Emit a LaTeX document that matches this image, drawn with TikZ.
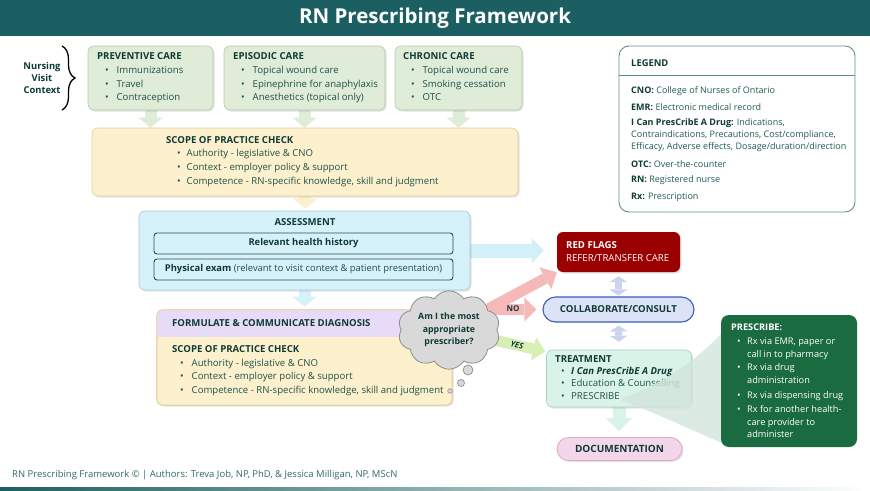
\documentclass[tikz,border=0pt]{standalone}
\usepackage{fontspec}
\setmainfont{Open Sans}
\usetikzlibrary{shapes.symbols,shadows,decorations.pathreplacing,arrows.meta,calc}
\pgfdeclarelayer{bg}
\pgfdeclarelayer{paper}
\pgfsetlayers{paper,bg,main}
\definecolor{titlebar}{HTML}{1C5F63}
\definecolor{hdr}{HTML}{0F3A36}
\definecolor{bod}{HTML}{1F514B}
\definecolor{grnf}{HTML}{DFECD7}
\definecolor{grnb}{HTML}{B3CCAA}
\definecolor{yelf}{HTML}{FDF0CD}
\definecolor{yelb}{HTML}{E3D09C}
\definecolor{bluf}{HTML}{D6F1F9}
\definecolor{blub}{HTML}{A4CCD8}
\definecolor{inb}{HTML}{24504F}
\definecolor{purf}{HTML}{E7DBF8}
\definecolor{redf}{HTML}{9A0000}
\definecolor{colf}{HTML}{DCE3F6}
\definecolor{colb}{HTML}{3B5DB6}
\definecolor{trtf}{HTML}{DAF3E8}
\definecolor{trtb}{HTML}{A7D3BF}
\definecolor{docf}{HTML}{F4D6EB}
\definecolor{docb}{HTML}{D8A8CB}
\definecolor{presf}{HTML}{1A6B3F}
\definecolor{wedgec}{HTML}{D3E5DD}
\definecolor{pinka}{HTML}{F6B9B9}
\definecolor{yesa}{HTML}{D7EEB5}
\definecolor{blua}{HTML}{D3EFF7}
\definecolor{lava}{HTML}{CCD3EF}
\definecolor{cldf}{HTML}{D9D9D9}
\definecolor{cldb}{HTML}{8E8E8E}
\definecolor{legb}{HTML}{5F8F8B}
\definecolor{legt}{HTML}{1F5B56}
\definecolor{foot}{HTML}{2D6C68}
\newcommand\hd[1]{{\color{hdr}\bfseries #1}}
\newcommand\bitem{\hspace*{8pt}\makebox[11.5pt][l]{\textbullet}}
\newcommand\bitemb{\hspace*{11pt}\makebox[9.5pt][l]{\textbullet}}
\newcommand\bitemc{\hspace*{6pt}\makebox[10pt][l]{\textbullet}}
\newcommand\bcontc{\hspace*{16pt}}
\begin{document}
\begin{tikzpicture}[x=1pt,y=-1pt,
 box/.style={rounded corners=6pt, line width=0.6pt, inner sep=0pt,
   drop shadow={opacity=0.22,shadow xshift=1.5pt,shadow yshift=-1.5pt}},
 txt/.style={anchor=north west, inner sep=0pt, align=left, text=bod,
   font=\fontsize{9.6}{13.3}\selectfont},
 lbl/.style={inner sep=0pt, text=hdr, font=\bfseries\fontsize{9.6}{12}\selectfont},
 legtxt/.style={anchor=west, inner sep=0pt, align=left, text=legt,
   font=\fontsize{9}{12.3}\selectfont},
 barrow/.style n args={4}{draw=#1, line width=#2,
   -{Triangle[width=#3,length=#4,line width=0pt]}},
 darrow/.style n args={4}{draw=#1, line width=#2,
   {Triangle[width=#3,length=#4,line width=0pt]}-{Triangle[width=#3,length=#4,line width=0pt]}}
]
\useasboundingbox (0,0) rectangle (870,490);
\begin{pgfonlayer}{paper}
\fill[white] (0,0) rectangle (870,490);
\end{pgfonlayer}
% title bar
\fill[titlebar] (0,0) rectangle (870,36);
\node[inner sep=0pt, text=white, font=\bfseries\fontsize{20.5}{24}\selectfont] (title) at (435,18) {RN Prescribing Framework};
\shade[left color=titlebar, right color=white] (0,487) rectangle (870,490);

% nursing visit context
\node[lbl, align=center, font=\bfseries\fontsize{9.4}{11.8}\selectfont] (nvc) at (42,78) {Nursing\\Visit\\Context};
\coordinate (brt) at (62,46);
\coordinate (brb) at (62,110);
\draw[line width=1.3pt, decorate, decoration={brace, amplitude=13pt}] (brt) -- (brb);

% context boxes
\node[box, draw=grnb, fill=grnf, minimum width=125, minimum height=64] (prev) at (150.5,78) {};
\node[box, draw=grnb, fill=grnf, minimum width=161, minimum height=64] (epi) at (304.5,78) {};
\node[box, draw=grnb, fill=grnf, minimum width=127, minimum height=64] (chron) at (458.5,78) {};
\node[txt] (prevt) at (97,52) {\hd{PREVENTIVE CARE}\\[1.5pt] \bitem Immunizations\\ \bitem Travel\\ \bitem Contraception};
\node[txt] (epit) at (233,52) {\hd{EPISODIC CARE}\\[1.5pt] \bitem Topical wound care\\ \bitem Epinephrine for anaphylaxis\\ \bitem Anesthetics (topical only)};
\node[txt] (chront) at (403,52) {\hd{CHRONIC CARE}\\[1.5pt] \bitem Topical wound care\\ \bitem Smoking cessation\\ \bitem OTC};

% scope of practice 1
\node[box, draw=yelb, fill=yelf, minimum width=426, minimum height=68] (scope) at (305,162) {};
\node[txt, font=\fontsize{9.6}{13.8}\selectfont] (scopet) at (166,136) {\hd{SCOPE OF PRACTICE CHECK}\\ \bitemb Authority - legislative \& CNO\\ \bitemb Context - employer policy \& support\\ \bitemb Competence - RN-specific knowledge, skill and judgment};

% assessment
\node[box, draw=blub, fill=bluf, minimum width=331, minimum height=79] (assess) at (304.5,250.5) {};
\node[lbl] (asst) at (305,222) {ASSESSMENT};
\node[draw=inb, line width=0.9pt, rounded corners=3pt, fill=bluf, minimum width=299, minimum height=21, inner sep=0pt, text=hdr, font=\bfseries\fontsize{9.4}{12}\selectfont] (hist) at (303.5,243.5) {Relevant health history};
\node[draw=inb, line width=0.9pt, rounded corners=3pt, fill=bluf, minimum width=299, minimum height=21, inner sep=0pt, text=bod, font=\fontsize{9.4}{12}\selectfont] (phys) at (303.5,269.5) {\textcolor{hdr}{\bfseries Physical exam} (relevant to visit context \& patient presentation)};

% formulate
\node[box, draw=yelb, fill=yelf, minimum width=295, minimum height=95] (form) at (304.5,357.5) {};
\begin{scope}
\clip[rounded corners=6pt] (form.north west) rectangle (form.south east);
\fill[purf] (form.north west) rectangle ($(form.north east)+(0,27)$);
\end{scope}
\draw[yelb, line width=0.6pt, rounded corners=6pt] (form.north west) rectangle (form.south east);
\node[lbl, anchor=west] (formt) at (172,323.5) {FORMULATE \& COMMUNICATE DIAGNOSIS};
\node[txt, font=\fontsize{9.6}{13.5}\selectfont] (scope2t) at (172,345.5) {\hd{SCOPE OF PRACTICE CHECK}\\ \bitem Authority - legislative \& CNO\\ \bitem Context - employer policy \& support\\ \bitem Competence - RN-specific knowledge, skill and judgment};

% right column
\node[rounded corners=6pt, fill=redf, minimum width=123, minimum height=40, inner sep=0pt, drop shadow={opacity=0.22,shadow xshift=1.5pt,shadow yshift=-1.5pt}] (red) at (618.5,252) {};
\node[txt, text=white, font=\fontsize{9.6}{13}\selectfont] (redt) at (566,241) {\textbf{RED FLAGS}\\REFER/TRANSFER CARE};
\node[rounded corners=12.5pt, draw=colb, line width=1.1pt, fill=colf, minimum width=151, minimum height=25, inner sep=0pt, text=hdr, font=\bfseries\fontsize{9.6}{12}\selectfont] (collab) at (618.5,309.5) {COLLABORATE/CONSULT};
\node[box, draw=trtb, fill=trtf, minimum width=145, minimum height=57] (treat) at (619,378.5) {};
\node[txt, font=\fontsize{9.6}{12.2}\selectfont] (treatt) at (555,355.5) {\hd{TREATMENT}\\ \bitemc \textcolor{hdr}{\bfseries\itshape I Can PresCribE A Drug}\\ \bitemc Education \& Counselling\\ \bitemc PRESCRIBE};
\node[rounded corners=11.5pt, draw=docb, line width=0.8pt, fill=docf, minimum width=125, minimum height=23, inner sep=0pt, text=hdr, font=\bfseries\fontsize{10}{12}\selectfont, drop shadow={opacity=0.22,shadow xshift=1.5pt,shadow yshift=-1.5pt}] (doc) at (619.5,449) {DOCUMENTATION};

% wedge from PRESCRIBE to prescribe box
\fill[wedgec, opacity=0.8] (622,398) .. controls (660,385) and (695,362) .. (725,330) -- (725,444) .. controls (690,430) and (655,412) .. (622,401) -- cycle;

% prescribe box
\node[rounded corners=8pt, fill=presf, minimum width=136, minimum height=132, inner sep=0pt] (presc) at (789,381) {};
\node[txt, text=white, font=\fontsize{9.2}{12.7}\selectfont] (presct) at (731,323.5) {\textbf{PRESCRIBE:}\\[1.5pt] \bitemc Rx via EMR, paper or\\ \bcontc call in to pharmacy\\[1pt] \bitemc Rx via drug\\ \bcontc administration\\[2.5pt] \bitemc Rx via dispensing drug\\[1pt] \bitemc Rx for another health-\\ \bcontc care provider to\\ \bcontc administer};

% cloud
\node[cloud, cloud puffs=10, cloud puff arc=115, aspect=1.3, draw=cldb, line width=0.8pt, fill=cldf, minimum width=102, minimum height=76, inner sep=0pt, align=center, text=hdr, font=\bfseries\fontsize{8.8}{12.3}\selectfont] (cloud) at (449,330) {Am I the most\\appropriate\\prescriber?};
\node[circle, draw=cldb, line width=0.7pt, fill=cldf, minimum size=10, inner sep=0pt] (bub1) at (468,370) {};
\node[circle, draw=cldb, line width=0.7pt, fill=cldf, minimum size=7, inner sep=0pt] (bub2) at (461,383) {};
\node[circle, draw=cldb, line width=0.6pt, fill=cldf, minimum size=4.5, inner sep=0pt] (bub3) at (450,391) {};

% legend
\node[rounded corners=10pt, draw=legb, line width=0.9pt, fill=white, minimum width=236, minimum height=166, inner sep=0pt] (legend) at (737,129) {};
\draw[legb, line width=0.7pt] (legend.west |- 0,75.5) -- (legend.east |- 0,75.5);
\node[lbl, anchor=west, font=\bfseries\fontsize{9.4}{11}\selectfont] (legt) at (631,63) {LEGEND};
\node[legtxt] (leg1) at (631,91) {\textcolor{hdr}{\bfseries CNO:} College of Nurses of Ontario};
\node[legtxt] (leg2) at (631,107) {\textcolor{hdr}{\bfseries EMR:} Electronic medical record};
\node[legtxt, anchor=north west] (leg3) at (631,118) {\textcolor{hdr}{\bfseries I Can PresCribE A Drug:} Indications,\\ Contraindications, Precautions, Cost/compliance,\\ Efficacy, Adverse effects, Dosage/duration/direction};
\node[legtxt] (leg4) at (631,164) {\textcolor{hdr}{\bfseries OTC:} Over-the-counter};
\node[legtxt] (leg5) at (631,180) {\textcolor{hdr}{\bfseries RN:} Registered nurse};
\node[legtxt] (leg6) at (631,197) {\textcolor{hdr}{\bfseries Rx:} Prescription};

% footer
\node[anchor=west, inner sep=0pt, text=foot, font=\fontsize{9.5}{11}\selectfont] (footer) at (12,475) {RN Prescribing Framework \textcopyright\ | Authors: Treva Job, NP, PhD, \& Jessica Milligan, NP, MScN};

% connectors (behind)
\begin{pgfonlayer}{bg}
\draw[barrow={grnf}{12pt}{24pt}{10pt}] (prev.center) -- (prev.center |- scope.north);
\draw[barrow={grnf}{12pt}{24pt}{10pt}] (epi.center) -- (epi.center |- scope.north);
\draw[barrow={grnf}{12pt}{24pt}{10pt}] (chron.center) -- (chron.center |- scope.north);
\draw[barrow={yelf}{12pt}{24pt}{10pt}, shorten >=2pt] (scope.center) -- (scope.center |- assess.north);
\draw[barrow={bluf}{12pt}{24pt}{10pt}, shorten >=3pt] (assess.center) -- (assess.center |- form.north);
\draw[barrow={blua}{14pt}{25pt}{12pt}, shorten >=13pt] (assess.center) -- (assess.center -| red.west);
\draw[barrow={pinka}{11pt}{25pt}{13pt}] (cloud.center) -- (red.south west);
\draw[barrow={pinka}{11pt}{24pt}{12pt}, shorten >=6pt] (cloud.center |- collab.west) -- (collab.west);
\draw[barrow={yesa}{11pt}{24pt}{12pt}, shorten >=1pt] (cloud.center) -- ($(treat.north west)+(0,2)$);
\draw[darrow={lava}{7pt}{18pt}{6pt}, shorten <=4pt, shorten >=1pt] (red.south) -- (collab.north);
\draw[darrow={lava}{7pt}{18pt}{6pt}, shorten <=3pt, shorten >=8pt] (collab.south) -- (treat.north);
\draw[barrow={trtf}{13pt}{26pt}{13pt}, shorten >=6pt] (treat.center) -- (treat.center |- doc.north);
\end{pgfonlayer}
\node[inner sep=0pt, text=hdr, font=\bfseries\fontsize{8}{10}\selectfont] (nolbl) at (513,309) {NO};
\node[inner sep=0pt, text=hdr, rotate=-12, font=\bfseries\itshape\fontsize{8}{10}\selectfont] (yeslbl) at (517,345) {YES};
\end{tikzpicture}
\end{document}
